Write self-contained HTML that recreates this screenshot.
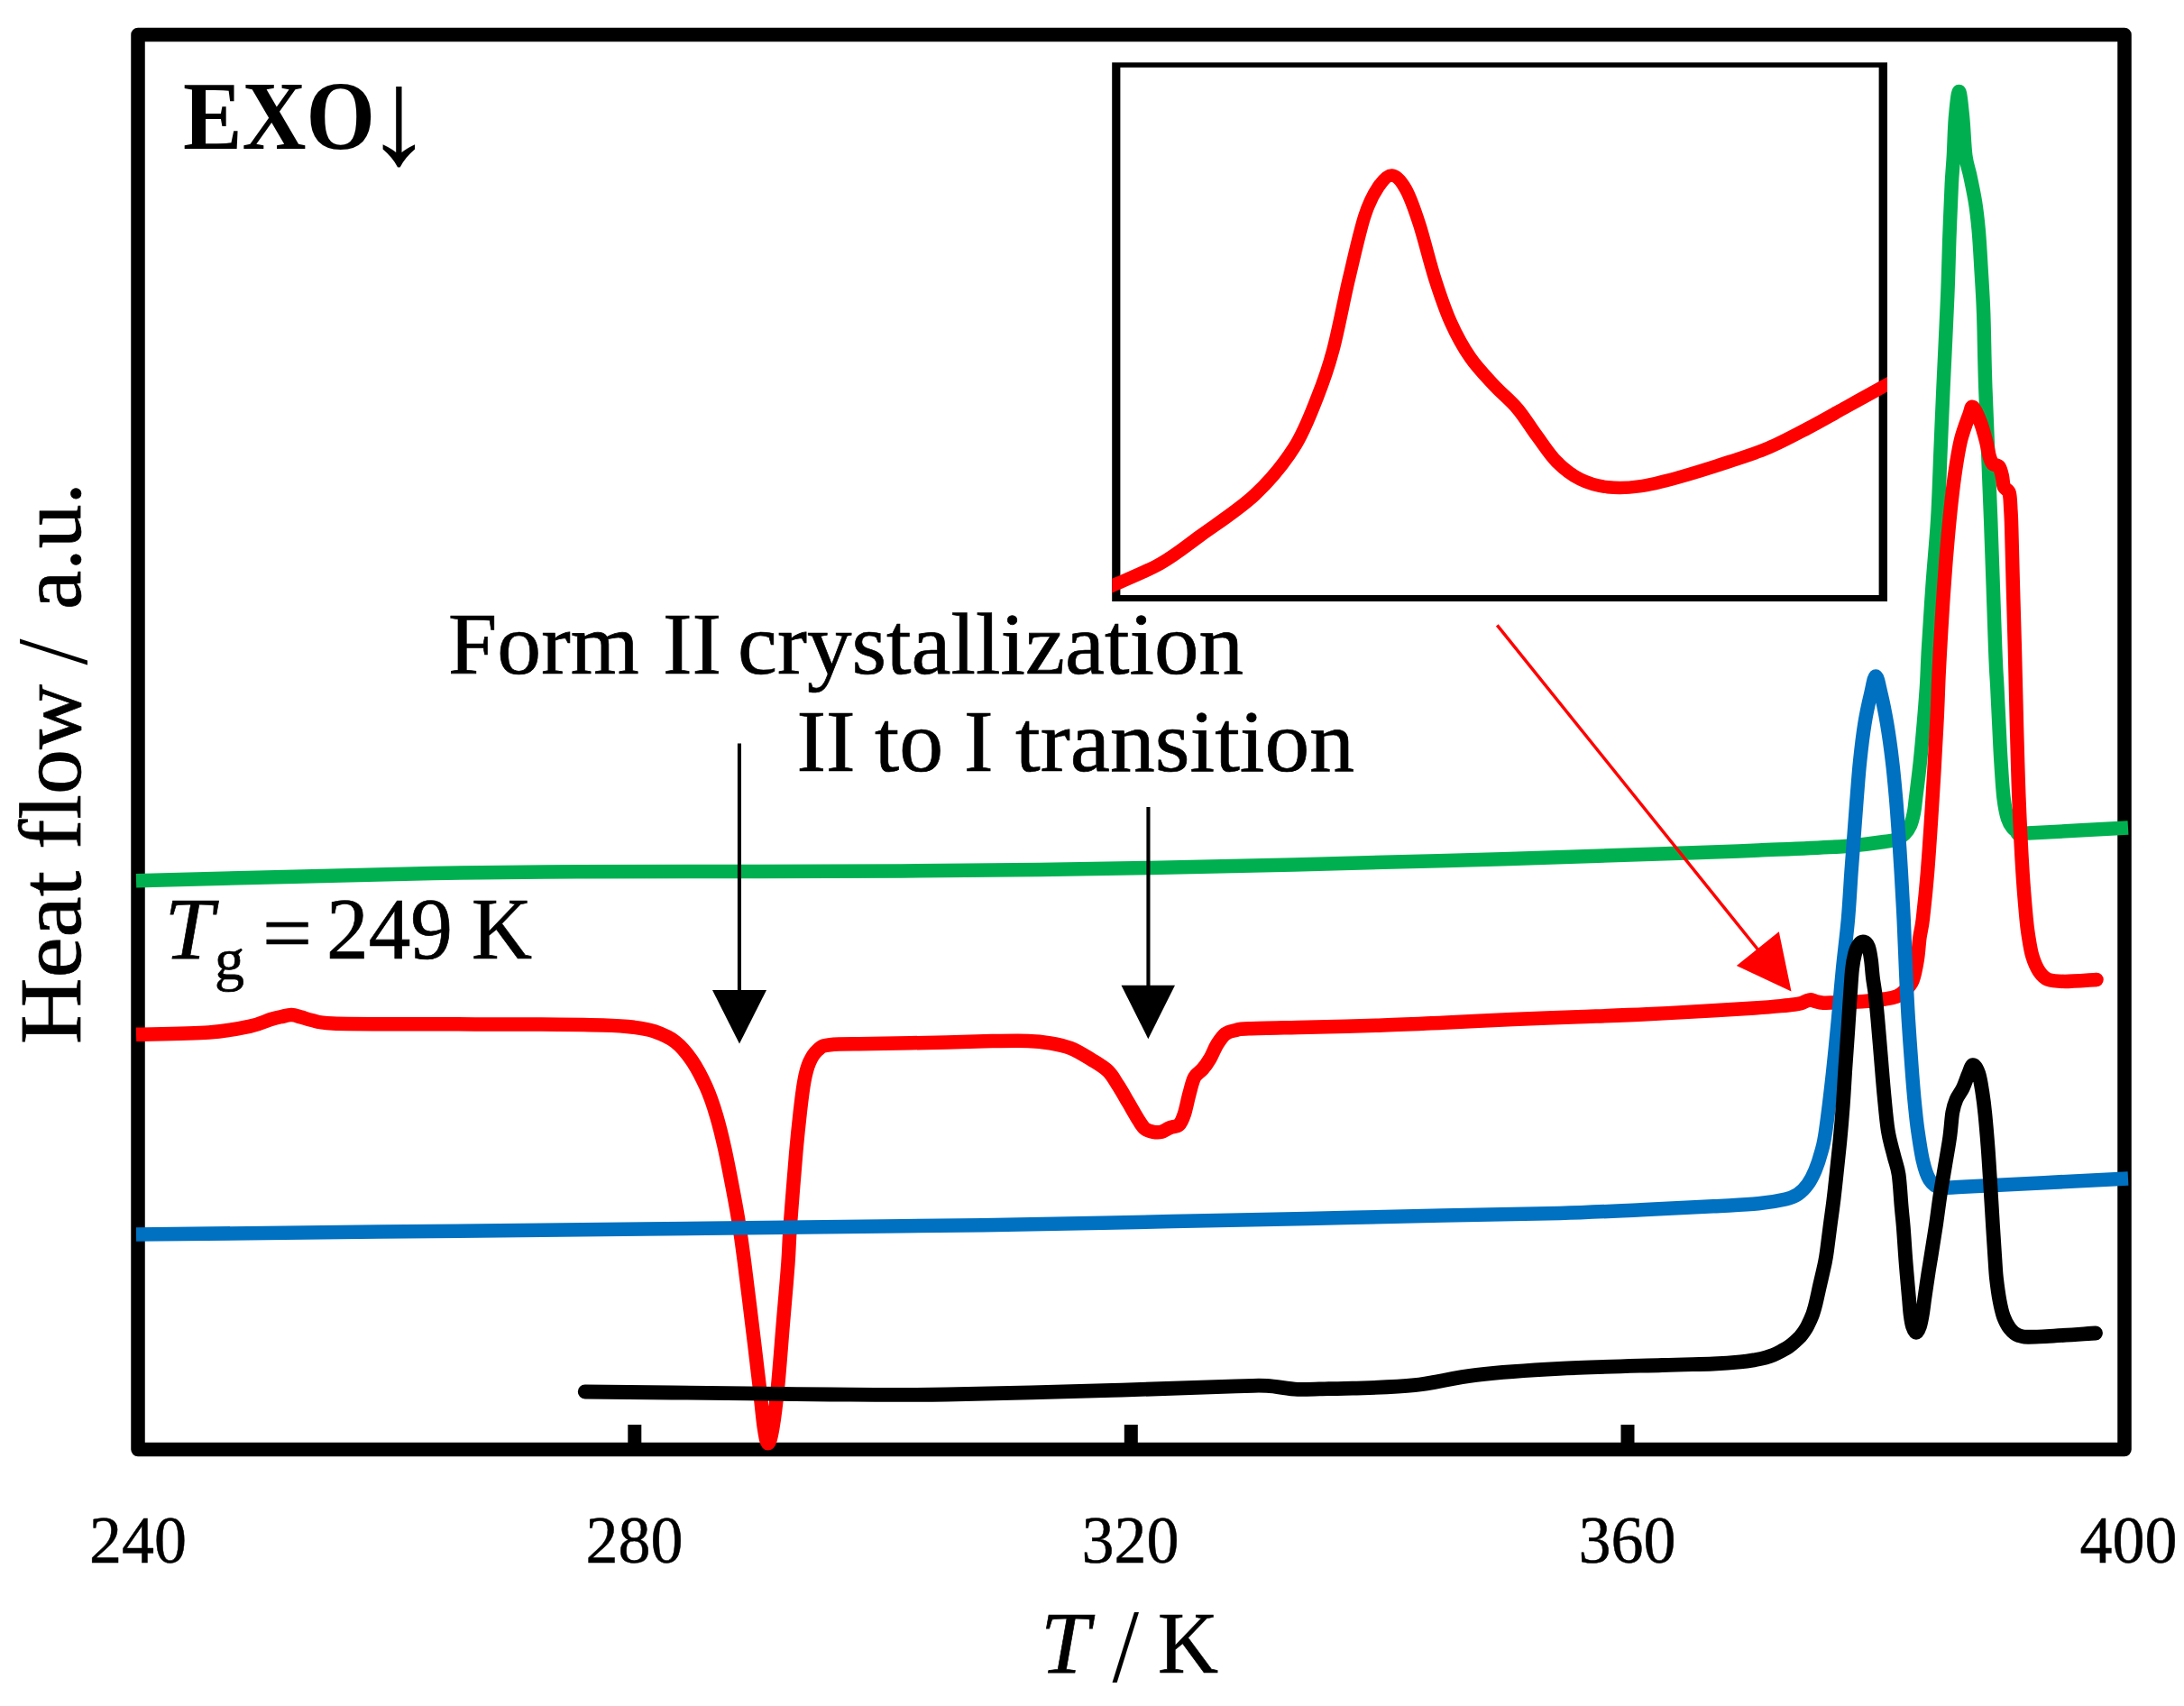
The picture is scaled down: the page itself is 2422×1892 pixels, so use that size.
<!DOCTYPE html>
<html lang="en"><head><meta charset="utf-8"><title>DSC heat flow curves</title>
<style>html,body{margin:0;padding:0;background:#fff;}body{width:2422px;height:1892px;overflow:hidden;}svg{display:block;}text{font-family:"Liberation Serif",serif;fill:#000;}</style>
</head><body>
<svg width="2422" height="1892" viewBox="0 0 2422 1892">
<rect x="0" y="0" width="2422" height="1892" fill="#fff"/>
<rect x="153" y="38.5" width="2203" height="1569" fill="none" stroke="#000" stroke-width="15.5" stroke-linejoin="round"/>
<rect x="696.3" y="1580" width="15" height="22" fill="#000"/><rect x="1246.8" y="1580" width="15" height="22" fill="#000"/><rect x="1797.5" y="1580" width="15" height="22" fill="#000"/>
<rect x="1233.2" y="69.3" width="859.8" height="597.7" fill="#000"/><rect x="1242.4" y="74.8" width="841.2" height="585.2" fill="#fff"/>
<defs><clipPath id="insetclip"><rect x="1233.2" y="69.3" width="859.8" height="597.7"/></clipPath></defs>
<g clip-path="url(#insetclip)"><path d="M1222.0 654.5C1224.1 653.6 1224.0 653.9 1234.8 649.0C1245.6 644.1 1271.0 634.1 1287.0 625.0C1303.0 615.9 1313.1 607.3 1330.5 594.6C1347.9 581.9 1374.0 565.2 1391.4 548.9C1408.8 532.6 1423.3 514.8 1434.9 496.7C1446.5 478.6 1453.8 458.3 1461.0 440.2C1468.2 422.1 1472.6 409.8 1478.4 388.0C1484.2 366.2 1490.0 334.3 1495.8 309.7C1501.6 285.1 1507.8 257.1 1513.2 240.1C1518.6 223.1 1523.3 215.1 1528.4 207.5C1533.5 199.9 1538.5 194.1 1543.6 194.4C1548.7 194.8 1553.8 200.5 1558.9 209.6C1564.0 218.7 1568.7 232.1 1574.1 248.8C1579.5 265.5 1585.7 291.6 1591.5 309.7C1597.3 327.8 1602.4 343.0 1608.9 357.5C1615.4 372.0 1622.6 385.1 1630.6 396.7C1638.6 408.3 1648.0 417.7 1656.7 427.1C1665.4 436.5 1674.8 443.8 1682.8 453.2C1690.8 462.6 1697.3 473.9 1704.6 483.7C1711.8 493.5 1718.3 504.0 1726.3 512.0C1734.3 520.0 1743.0 526.8 1752.4 531.5C1761.8 536.2 1772.0 538.9 1782.9 540.2C1793.8 541.5 1804.7 541.2 1817.7 539.4C1830.8 537.6 1844.5 534.0 1861.2 529.4C1877.9 524.8 1901.0 517.5 1917.7 512.0C1934.4 506.6 1946.7 502.9 1961.2 496.7C1975.7 490.5 1990.2 482.6 2004.7 475.0C2019.2 467.4 2034.4 458.6 2048.2 451.0C2062.0 443.4 2078.7 434.1 2087.3 429.3C2095.9 424.5 2097.9 423.5 2100.0 422.3" fill="none" stroke="#ff0000" stroke-width="14.5" stroke-linecap="butt" stroke-linejoin="round"/></g>
<path d="M151.0 976.7C205.8 975.3 398.5 970.1 480.0 968.5C561.5 966.9 553.3 967.2 640.0 966.8C726.7 966.4 894.2 966.7 1000.0 966.0C1105.8 965.3 1175.8 964.3 1275.0 962.4C1374.2 960.5 1495.8 957.5 1595.0 954.8C1694.2 952.1 1810.8 948.0 1870.0 946.0C1929.2 944.0 1920.5 944.3 1950.0 943.0C1979.5 941.7 2022.8 940.1 2046.8 938.4C2070.8 936.7 2084.7 934.2 2094.2 932.8C2103.7 931.4 2101.0 931.3 2104.0 930.0C2107.0 928.7 2109.6 927.4 2112.0 925.0C2114.4 922.6 2116.8 919.5 2118.5 915.5C2120.2 911.5 2121.5 906.1 2122.5 901.0C2123.5 895.9 2123.4 894.4 2124.6 884.8C2125.8 875.2 2128.1 857.3 2129.5 843.6C2130.9 829.9 2132.1 816.1 2133.3 802.4C2134.5 788.7 2135.6 774.9 2136.5 761.2C2137.4 747.5 2137.4 738.5 2138.5 720.0C2139.6 701.5 2141.3 674.2 2143.0 650.0C2144.7 625.8 2147.3 600.0 2148.8 575.0C2150.3 550.0 2151.0 524.2 2152.0 500.0C2153.0 475.8 2153.7 458.8 2155.0 430.0C2156.3 401.2 2158.7 354.5 2159.8 327.0C2160.9 299.5 2161.1 285.5 2161.8 265.0C2162.6 244.5 2163.5 219.3 2164.3 204.0C2165.1 188.7 2165.7 185.1 2166.4 173.0C2167.1 160.9 2167.4 143.4 2168.4 131.5C2169.4 119.6 2171.1 101.6 2172.5 101.6C2173.9 101.6 2175.5 119.7 2176.7 131.5C2177.9 143.3 2178.4 162.0 2179.8 172.7C2181.2 183.3 2183.1 186.8 2184.9 195.4C2186.7 204.0 2188.9 214.1 2190.5 224.0C2192.1 233.9 2193.1 243.0 2194.2 255.0C2195.3 267.0 2196.0 280.5 2196.9 296.0C2197.8 311.5 2198.9 325.7 2199.7 348.0C2200.5 370.3 2200.5 392.2 2201.8 430.0C2203.1 467.8 2205.8 526.7 2207.6 575.0C2209.4 623.3 2211.5 689.0 2212.7 720.0C2213.9 751.0 2214.1 747.5 2214.8 761.2C2215.5 774.9 2216.1 788.7 2216.8 802.4C2217.5 816.1 2218.0 829.9 2218.9 843.6C2219.8 857.3 2220.7 874.1 2222.0 884.8C2223.3 895.5 2224.8 902.5 2226.5 908.0C2228.2 913.5 2229.9 915.5 2232.0 918.0C2234.1 920.5 2236.2 922.0 2239.0 923.0C2241.8 924.0 2228.6 925.0 2248.8 924.1C2269.0 923.2 2341.5 918.9 2360.0 917.9" fill="none" stroke="#00b050" stroke-width="15.5" stroke-linecap="butt" stroke-linejoin="round"/>
<path d="M151.0 1147.3C164.4 1146.9 210.5 1146.5 231.6 1145.0C252.7 1143.5 265.9 1140.5 277.4 1138.1C288.8 1135.7 294.5 1132.2 300.3 1130.5C306.1 1128.8 308.2 1128.4 312.0 1127.6C315.8 1126.8 319.5 1125.5 323.2 1125.6C326.9 1125.7 330.2 1127.0 334.0 1128.0C337.8 1129.0 340.2 1130.3 346.0 1131.5C351.8 1132.7 349.8 1134.2 368.9 1134.9C388.0 1135.6 422.0 1135.6 460.5 1135.8C499.0 1136.0 565.3 1135.8 600.0 1136.0C634.7 1136.2 651.5 1136.5 668.7 1137.0C685.9 1137.5 693.5 1138.1 703.0 1139.3C712.5 1140.5 718.3 1141.2 725.9 1143.9C733.5 1146.6 741.9 1150.0 748.8 1155.3C755.7 1160.6 761.4 1167.5 767.1 1175.9C772.8 1184.3 778.6 1195.4 783.2 1205.7C787.8 1216.0 791.2 1226.2 794.6 1237.7C798.0 1249.2 800.8 1260.7 803.8 1274.4C806.8 1288.1 810.2 1306.0 812.9 1320.1C815.6 1334.2 817.7 1345.8 819.8 1359.1C821.9 1372.4 823.1 1381.7 825.5 1400.0C827.9 1418.3 831.2 1445.8 834.0 1468.7C836.8 1491.6 840.0 1518.3 842.2 1537.4C844.4 1556.5 845.7 1572.6 847.3 1583.2C848.9 1593.8 850.2 1600.8 851.8 1600.8C853.4 1600.8 855.1 1593.8 856.9 1583.2C858.7 1572.6 860.7 1556.5 862.6 1537.4C864.5 1518.3 866.4 1491.6 868.3 1468.7C870.2 1445.8 872.7 1418.3 874.0 1400.0C875.3 1381.7 874.8 1379.3 876.3 1359.1C877.8 1338.9 880.9 1300.0 882.7 1279.0C884.5 1258.0 885.8 1246.6 887.3 1233.2C888.8 1219.8 890.2 1208.0 891.9 1198.8C893.6 1189.6 895.1 1183.9 897.6 1178.2C900.1 1172.5 903.0 1167.8 906.8 1164.5C910.6 1161.2 910.6 1159.9 920.5 1158.7C930.4 1157.5 944.7 1158.0 966.3 1157.6C987.9 1157.1 1027.7 1156.5 1050.0 1156.0C1072.3 1155.5 1085.0 1154.9 1100.0 1154.6C1115.0 1154.3 1129.2 1154.0 1140.0 1154.4C1150.8 1154.8 1156.6 1155.5 1164.5 1156.8C1172.4 1158.1 1179.8 1159.5 1187.4 1162.5C1195.0 1165.5 1203.4 1170.9 1210.3 1175.1C1217.2 1179.3 1223.6 1182.9 1228.6 1187.7C1233.5 1192.5 1236.2 1197.9 1240.0 1203.8C1243.8 1209.7 1247.7 1216.7 1251.5 1223.2C1255.3 1229.7 1259.9 1237.9 1262.9 1242.7C1266.0 1247.5 1267.1 1249.7 1269.8 1251.8C1272.5 1253.9 1275.9 1254.7 1278.9 1255.3C1282.0 1255.9 1285.0 1256.1 1288.1 1255.3C1291.2 1254.5 1294.0 1252.0 1297.3 1250.7C1300.5 1249.4 1304.9 1249.8 1307.6 1247.3C1310.3 1244.8 1311.4 1241.5 1313.3 1235.8C1315.2 1230.1 1317.1 1219.8 1319.0 1212.9C1320.9 1206.0 1322.2 1199.2 1324.7 1194.6C1327.2 1190.0 1331.0 1188.8 1333.9 1185.4C1336.8 1182.0 1339.2 1178.6 1341.9 1174.0C1344.6 1169.4 1347.0 1162.6 1349.9 1158.0C1352.8 1153.4 1355.7 1149.1 1359.1 1146.5C1362.5 1143.9 1366.2 1143.5 1370.5 1142.5C1374.8 1141.5 1371.8 1141.3 1385.0 1140.8C1398.2 1140.2 1426.0 1139.8 1450.0 1139.2C1474.0 1138.6 1503.8 1138.0 1528.8 1137.2C1553.8 1136.4 1575.2 1135.3 1600.0 1134.2C1624.8 1133.1 1652.6 1131.6 1677.6 1130.5C1702.6 1129.4 1725.2 1128.7 1750.0 1127.7C1774.8 1126.8 1801.4 1126.0 1826.4 1124.8C1851.4 1123.6 1880.2 1121.9 1900.0 1120.8C1919.8 1119.7 1933.0 1118.9 1945.5 1118.0C1958.0 1117.1 1967.6 1116.3 1975.0 1115.6C1982.4 1114.9 1986.3 1114.5 1990.0 1114.0C1993.7 1113.5 1994.8 1113.3 1997.0 1112.7C1999.2 1112.1 2001.1 1110.9 2003.0 1110.2C2004.9 1109.5 2006.4 1108.7 2008.2 1108.8C2010.0 1108.9 2011.7 1110.1 2014.0 1110.7C2016.3 1111.3 2019.3 1112.0 2022.0 1112.2C2024.7 1112.4 2022.8 1112.3 2030.0 1112.1C2037.2 1111.9 2055.0 1111.5 2065.0 1110.8C2075.0 1110.1 2083.6 1109.0 2090.0 1108.0C2096.4 1107.0 2099.9 1106.5 2103.6 1105.0C2107.3 1103.5 2109.1 1101.9 2112.0 1099.0C2114.9 1096.1 2118.6 1093.1 2121.0 1087.4C2123.4 1081.7 2124.9 1072.6 2126.2 1064.7C2127.5 1056.8 2127.9 1047.7 2128.9 1040.0C2129.9 1032.3 2131.0 1030.9 2132.4 1018.8C2133.8 1006.7 2135.7 989.6 2137.5 967.3C2139.3 945.0 2141.4 912.3 2143.1 884.8C2144.8 857.3 2146.7 824.9 2147.8 802.4C2149.0 779.9 2149.2 767.1 2150.0 750.0C2150.8 732.9 2151.7 717.1 2152.7 700.0C2153.7 682.9 2154.8 664.7 2156.1 647.3C2157.3 629.9 2158.8 611.3 2160.2 595.8C2161.6 580.3 2162.9 567.2 2164.3 554.5C2165.7 541.8 2167.1 530.6 2168.8 519.5C2170.5 508.4 2172.1 497.6 2174.6 487.6C2177.1 477.7 2181.7 465.8 2183.9 459.8C2186.1 453.8 2185.9 450.1 2188.0 451.5C2190.1 452.9 2193.8 461.8 2196.2 468.0C2198.6 474.2 2200.7 482.1 2202.4 488.6C2204.1 495.1 2205.2 502.8 2206.5 507.1C2207.8 511.4 2208.3 512.7 2210.0 514.4C2211.7 516.1 2215.1 515.3 2216.8 517.5C2218.5 519.7 2219.4 524.0 2220.3 527.8C2221.2 531.6 2221.1 537.0 2222.4 540.1C2223.7 543.2 2227.0 542.6 2228.2 546.7C2229.4 550.8 2229.4 558.3 2229.8 564.8C2230.2 571.2 2230.3 571.6 2230.7 585.4C2231.1 599.1 2231.7 624.9 2232.3 647.3C2232.9 669.7 2233.7 694.1 2234.4 720.0C2235.1 745.9 2235.7 774.9 2236.4 802.4C2237.2 829.9 2237.8 857.3 2238.9 884.8C2240.0 912.3 2241.6 945.0 2243.0 967.3C2244.4 989.6 2246.0 1006.7 2247.1 1018.8C2248.2 1030.9 2248.7 1033.0 2249.8 1040.0C2250.9 1047.0 2252.0 1054.4 2253.9 1060.6C2255.8 1066.8 2258.3 1072.8 2261.2 1077.1C2264.1 1081.4 2266.6 1084.5 2271.4 1086.4C2276.2 1088.3 2281.1 1088.4 2290.0 1088.4C2298.9 1088.4 2319.2 1086.7 2325.0 1086.4" fill="none" stroke="#ff0000" stroke-width="15.5" stroke-linecap="butt" stroke-linejoin="round"/>
<circle cx="2325" cy="1086.4" r="7.75" fill="#ff0000"/>
<path d="M151.0 1369.0C225.8 1368.2 458.5 1365.7 600.0 1364.2C741.5 1362.7 911.7 1360.8 1000.0 1359.8C1088.3 1358.8 1080.0 1358.8 1130.0 1357.9C1180.0 1357.0 1246.7 1355.7 1300.0 1354.6C1353.3 1353.5 1400.0 1352.5 1450.0 1351.4C1500.0 1350.3 1553.3 1349.0 1600.0 1348.0C1646.7 1347.0 1693.3 1346.5 1730.0 1345.5C1766.7 1344.5 1791.7 1343.0 1820.0 1341.7C1848.3 1340.4 1878.3 1339.0 1900.0 1337.8C1921.7 1336.6 1936.7 1336.1 1950.0 1334.8C1963.3 1333.5 1972.7 1331.7 1980.0 1330.0C1987.3 1328.3 1989.6 1327.2 1993.7 1324.5C1997.8 1321.8 2001.5 1317.9 2004.7 1313.5C2007.9 1309.1 2010.5 1304.0 2013.0 1298.0C2015.5 1292.0 2017.9 1284.7 2019.8 1277.5C2021.7 1270.3 2022.4 1269.6 2024.5 1255.0C2026.6 1240.4 2030.2 1210.8 2032.5 1190.0C2034.8 1169.2 2036.7 1149.2 2038.5 1130.0C2040.3 1110.8 2041.7 1093.3 2043.5 1075.0C2045.3 1056.7 2047.8 1038.0 2049.4 1020.0C2051.0 1002.0 2051.9 983.0 2053.0 967.3C2054.1 951.6 2055.1 939.8 2056.1 926.0C2057.1 912.2 2058.1 898.5 2059.2 884.8C2060.3 871.1 2061.2 857.3 2062.7 843.6C2064.1 829.9 2065.9 814.8 2067.9 802.4C2069.9 790.0 2072.6 778.2 2074.7 769.5C2076.8 760.8 2078.3 749.9 2080.2 749.9C2082.1 749.9 2083.9 760.8 2086.0 769.5C2088.1 778.2 2090.5 790.0 2092.6 802.4C2094.7 814.8 2096.8 829.9 2098.4 843.6C2100.1 857.3 2101.3 871.1 2102.5 884.8C2103.7 898.5 2104.6 912.2 2105.6 926.0C2106.6 939.8 2107.4 951.6 2108.3 967.3C2109.2 983.0 2110.3 1002.0 2111.2 1020.0C2112.1 1038.0 2112.7 1056.7 2113.5 1075.0C2114.3 1093.3 2115.1 1110.8 2116.3 1130.0C2117.5 1149.2 2119.3 1174.2 2120.5 1190.0C2121.7 1205.8 2122.4 1214.3 2123.5 1225.0C2124.6 1235.7 2125.3 1243.6 2126.8 1254.0C2128.3 1264.4 2130.3 1278.3 2132.4 1287.3C2134.5 1296.3 2136.3 1302.9 2139.6 1307.9C2142.8 1312.9 2145.7 1315.9 2151.9 1317.3C2158.1 1318.7 2142.0 1318.0 2176.7 1316.3C2211.4 1314.6 2329.4 1308.5 2360.0 1306.9" fill="none" stroke="#0070c0" stroke-width="15.5" stroke-linecap="butt" stroke-linejoin="round"/>
<path d="M648.7 1543.5C678.8 1543.8 783.7 1544.9 829.0 1545.4C874.3 1545.9 883.7 1546.3 920.5 1546.5C957.3 1546.7 997.9 1547.3 1050.0 1546.5C1102.1 1545.7 1179.8 1543.4 1233.2 1541.9C1286.6 1540.4 1341.9 1538.2 1370.5 1537.4C1399.1 1536.6 1393.5 1536.3 1404.9 1536.9C1416.4 1537.5 1427.8 1540.3 1439.2 1540.8C1450.6 1541.3 1463.4 1540.3 1473.5 1540.1C1483.6 1539.9 1484.1 1540.3 1500.0 1539.7C1515.9 1539.1 1545.8 1538.7 1568.7 1536.2C1591.6 1533.7 1610.7 1527.8 1637.4 1524.8C1664.1 1521.8 1694.7 1519.7 1729.0 1517.9C1763.3 1516.1 1814.9 1514.9 1843.4 1514.0C1871.9 1513.1 1885.6 1513.1 1900.0 1512.5C1914.4 1511.9 1922.2 1511.2 1930.0 1510.4C1937.8 1509.7 1942.3 1508.8 1947.0 1508.0C1951.7 1507.2 1954.8 1506.5 1958.0 1505.6C1961.2 1504.7 1963.7 1504.0 1966.5 1502.8C1969.3 1501.6 1972.2 1500.1 1975.0 1498.6C1977.8 1497.1 1980.8 1495.6 1983.4 1493.8C1986.0 1492.0 1988.3 1490.0 1990.5 1488.0C1992.7 1486.0 1994.8 1484.0 1996.6 1482.1C1998.3 1480.1 1999.7 1478.3 2001.0 1476.3C2002.3 1474.3 2003.0 1473.2 2004.5 1470.3C2006.0 1467.3 2008.3 1462.5 2009.8 1458.6C2011.3 1454.7 2011.8 1452.8 2013.3 1446.9C2014.8 1441.0 2016.8 1431.2 2018.6 1423.4C2020.4 1415.6 2022.6 1406.4 2023.9 1400.0C2025.2 1393.6 2025.4 1391.7 2026.3 1385.0C2027.2 1378.3 2028.3 1369.2 2029.5 1360.0C2030.7 1350.8 2032.3 1340.0 2033.5 1330.0C2034.7 1320.0 2035.7 1310.5 2036.8 1300.0C2037.9 1289.5 2039.1 1279.1 2040.3 1266.7C2041.5 1254.3 2042.8 1239.2 2043.8 1225.5C2044.8 1211.8 2045.5 1198.0 2046.4 1184.2C2047.3 1170.5 2048.4 1156.7 2049.3 1143.0C2050.2 1129.3 2051.2 1113.1 2052.0 1101.8C2052.8 1090.5 2053.2 1082.3 2054.0 1075.0C2054.8 1067.7 2055.8 1062.6 2057.0 1058.0C2058.2 1053.4 2059.8 1049.8 2061.5 1047.5C2063.2 1045.2 2065.2 1044.1 2067.0 1044.5C2068.8 1044.9 2070.7 1046.6 2072.0 1050.0C2073.3 1053.4 2074.2 1059.2 2075.0 1065.0C2075.8 1070.8 2076.2 1078.8 2077.0 1085.0C2077.8 1091.2 2078.6 1094.5 2079.5 1102.0C2080.4 1109.5 2081.2 1118.0 2082.3 1130.0C2083.4 1142.0 2084.8 1159.8 2086.0 1174.0C2087.2 1188.2 2088.2 1201.6 2089.5 1215.0C2090.8 1228.4 2092.0 1243.1 2093.8 1254.3C2095.6 1265.5 2098.4 1274.0 2100.4 1282.1C2102.4 1290.2 2104.2 1293.2 2105.6 1302.7C2107.0 1312.2 2107.8 1329.2 2108.7 1338.8C2109.5 1348.3 2110.0 1351.5 2110.7 1360.0C2111.4 1368.5 2112.2 1381.4 2112.8 1390.0C2113.4 1398.6 2113.8 1403.2 2114.5 1411.5C2115.2 1419.8 2116.3 1432.2 2117.0 1440.0C2117.7 1447.8 2117.9 1452.8 2118.6 1458.0C2119.3 1463.2 2119.9 1467.7 2121.0 1471.0C2122.1 1474.3 2123.7 1477.8 2125.0 1477.8C2126.3 1477.8 2127.9 1474.3 2129.0 1471.0C2130.1 1467.7 2130.9 1463.2 2131.8 1458.0C2132.7 1452.8 2133.2 1447.8 2134.3 1440.0C2135.4 1432.2 2137.2 1419.8 2138.5 1411.5C2139.8 1403.2 2140.6 1399.1 2142.0 1390.0C2143.4 1380.9 2145.5 1368.1 2147.2 1357.0C2148.8 1345.9 2150.2 1334.1 2151.9 1323.3C2153.6 1312.5 2155.4 1302.7 2157.1 1292.4C2158.8 1282.1 2160.8 1271.3 2162.2 1261.5C2163.6 1251.7 2164.1 1240.7 2165.3 1233.7C2166.5 1226.7 2167.6 1223.8 2169.5 1219.3C2171.4 1214.8 2174.5 1211.5 2176.7 1206.9C2178.9 1202.3 2180.9 1195.8 2182.8 1191.5C2184.7 1187.2 2186.1 1181.4 2188.0 1181.2C2189.9 1181.0 2192.5 1185.4 2194.2 1190.4C2195.9 1195.4 2197.1 1203.4 2198.3 1211.0C2199.5 1218.6 2200.4 1225.7 2201.4 1235.8C2202.4 1245.9 2203.5 1258.9 2204.5 1271.8C2205.5 1284.7 2206.3 1298.4 2207.2 1313.0C2208.1 1327.6 2209.2 1345.7 2210.0 1359.4C2210.8 1373.1 2211.6 1385.2 2212.3 1395.0C2213.0 1404.8 2213.1 1410.1 2214.0 1418.0C2214.9 1425.9 2216.2 1435.4 2217.5 1442.4C2218.8 1449.4 2220.0 1454.9 2221.8 1460.0C2223.7 1465.1 2225.8 1469.5 2228.6 1473.0C2231.4 1476.5 2233.8 1479.4 2238.5 1481.0C2243.2 1482.6 2242.8 1483.0 2257.0 1482.6C2271.2 1482.2 2312.8 1479.2 2324.0 1478.5" fill="none" stroke="#000" stroke-width="15.8" stroke-linecap="round" stroke-linejoin="round"/>
<g fill="#000" stroke="none"><rect x="817.9" y="824.5" width="4.1" height="280"/><polygon points="790,1098 850,1098 820,1157.6"/><rect x="1271.4" y="895" width="4.1" height="203"/><polygon points="1243.5,1092.7 1303,1092.7 1273.3,1152.2"/></g><line x1="1660.3" y1="693.4" x2="1951" y2="1055" stroke="#ff0000" stroke-width="3.5"/><polygon points="1972.8,1033.2 1925.8,1071 1986.5,1099.6" fill="#ff0000"/>
<g font-size="97.7" stroke="#000" stroke-width="0.7"><text x="203" y="164.5" font-weight="bold" font-size="108.4" stroke-width="0" textLength="213" lengthAdjust="spacingAndGlyphs">EXO</text><text x="404.5" y="181.2" font-size="151.4" stroke-width="0">↓</text><text x="497" y="747" >Form</text><text x="735" y="747" >II</text><text x="818" y="747" textLength="561" lengthAdjust="spacingAndGlyphs">crystallization</text><text x="883.5" y="855" >II</text><text x="970" y="855" >to</text><text x="1069" y="855" >I</text><text x="1126" y="855" textLength="376" lengthAdjust="spacingAndGlyphs">transition</text><text x="182.6" y="1062.5" font-style="italic">T</text><text x="238" y="1086" font-size="66">g</text><text x="291" y="1066.5" >=</text><text x="362" y="1062.5" textLength="140" lengthAdjust="spacingAndGlyphs">249</text><text x="523" y="1062.5" textLength="67" lengthAdjust="spacingAndGlyphs">K</text><text x="1154" y="1855.4" font-style="italic">T</text><text x="1233.5" y="1864.5" font-size="117" stroke-width="0" textLength="29.5" lengthAdjust="spacingAndGlyphs">/</text><text x="1284" y="1855.4" textLength="67" lengthAdjust="spacingAndGlyphs">K</text><g transform="translate(89.4,0) rotate(-90)"><text x="-1158" y="0" textLength="192" lengthAdjust="spacingAndGlyphs">Heat</text><text x="-942" y="0" textLength="183" lengthAdjust="spacingAndGlyphs">flow</text><text x="-737.5" y="7" font-size="113" stroke-width="0" textLength="29" lengthAdjust="spacingAndGlyphs">/</text><text x="-676" y="0" >a.u.</text></g></g><g font-size="74" text-anchor="middle" stroke="#000" stroke-width="0.5"><text x="153" y="1733" textLength="108" lengthAdjust="spacingAndGlyphs">240</text><text x="703.5" y="1733" textLength="108" lengthAdjust="spacingAndGlyphs">280</text><text x="1253.5" y="1733" textLength="108" lengthAdjust="spacingAndGlyphs">320</text><text x="1804.5" y="1733" textLength="108" lengthAdjust="spacingAndGlyphs">360</text><text x="2360.5" y="1733" textLength="108" lengthAdjust="spacingAndGlyphs">400</text></g>
</svg></body></html>
